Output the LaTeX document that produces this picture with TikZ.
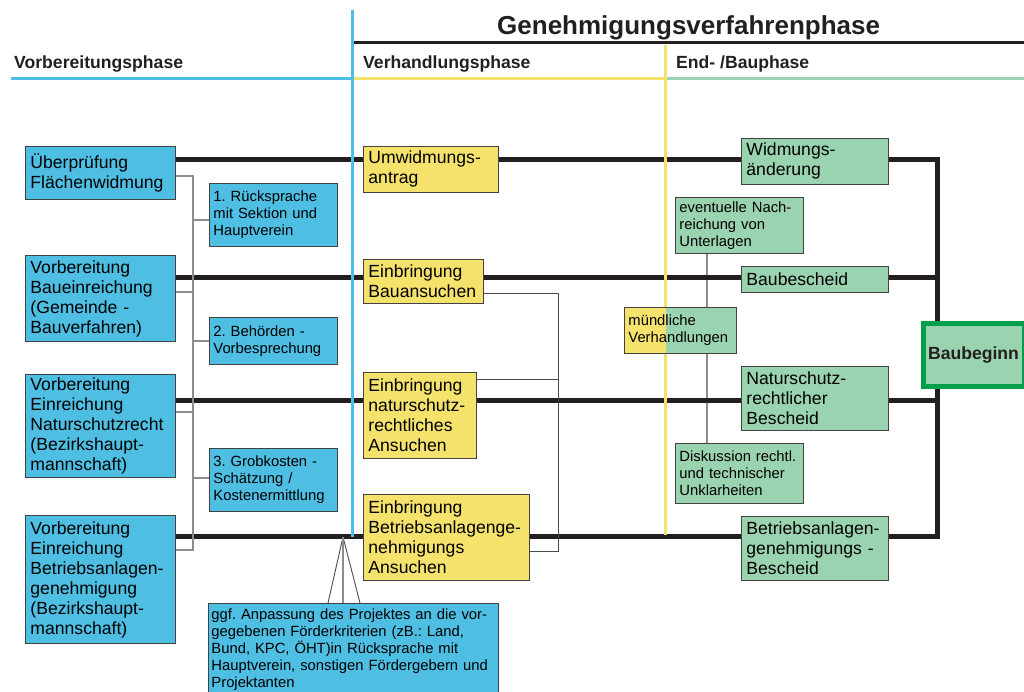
\documentclass[tikz,border=0pt]{standalone}
\usepackage{fontspec}
\setmainfont{Liberation Sans}
\usetikzlibrary{calc}
\frenchspacing
\pgfdeclarelayer{bg}
\pgfdeclarelayer{mid}
\pgfsetlayers{bg,mid,main}
\definecolor{cblue}{HTML}{4EBEE3}
\definecolor{cyel}{HTML}{F4E26D}
\definecolor{cgrn}{HTML}{9AD3AF}
\definecolor{cdg}{HTML}{00A04B}
\definecolor{cblk}{HTML}{231F20}
\tikzset{
  bx/.style={draw=cblk!85, line width=0.9pt, anchor=north west, align=left,
    inner xsep=5pt, inner ysep=0pt, font=\frenchspacing\fontsize{17.6}{20}\selectfont},
  sm/.style={bx, inner xsep=4pt, font=\frenchspacing\fontsize{14.8}{17}\selectfont},
  thk/.style={line width=5pt, draw=cblk},
  gry/.style={line width=1.5pt, draw=black!45},
  thn/.style={line width=0.9pt, draw=black!70},
  phase/.style={line width=3pt},
  head/.style={anchor=base west, inner sep=0pt, font=\fontsize{17.6}{20}\selectfont\bfseries, text=cblk},
}
\begin{document}
\begin{tikzpicture}[x=1pt,y=-1pt]
\useasboundingbox (0,0) rectangle (1024,692);
% headings
\node[head, font=\fontsize{26}{30}\selectfont\bfseries] (title) at (497,35) {Genehmigungsverfahrenphase};
\node[head] (h1) at (14,69) {Vorbereitungsphase};
\node[head] (h2) at (363,69) {Verhandlungsphase};
\node[head] (h3) at (676,69) {End- /Bauphase};

% blue boxes
\node[bx, fill=cblue, text width=140pt, minimum height=53pt] (b1) at (25,146) {Überprüfung\\Flächenwidmung};
\node[bx, fill=cblue, text width=140pt, minimum height=86pt] (b2) at (25,255) {Vorbereitung\\Baueinreichung\\(Gemeinde -\\Bauverfahren)};
\node[bx, fill=cblue, text width=140pt, minimum height=103pt] (b3) at (25,374) {Vorbereitung\\Einreichung\\Naturschutzrecht\\(Bezirkshaupt-\\mannschaft)};
\node[bx, fill=cblue, text width=140pt, minimum height=128pt] (b4) at (25,515) {Vorbereitung\\Einreichung\\Betriebsanlagen-\\genehmigung\\(Bezirkshaupt-\\mannschaft)};
\node[sm, fill=cblue, text width=120pt, minimum height=63pt] (s1) at (209,183) {1. Rücksprache\\mit Sektion und\\Hauptverein};
\node[sm, fill=cblue, text width=120pt, minimum height=47pt] (s2) at (209,317) {2. Behörden -\\Vorbesprechung};
\node[sm, fill=cblue, text width=120pt, minimum height=63pt] (s3) at (209,448) {3. Grobkosten -\\Schätzung /\\Kostenermittlung};
\node[sm, fill=cblue, text width=284pt, inner xsep=3pt, minimum height=92pt] (g) at (208,603) {ggf. Anpassung des Projektes an die vor-\\gegebenen Förderkriterien (zB.: Land,\\Bund, KPC, ÖHT)in Rücksprache mit\\Hauptverein, sonstigen Fördergebern und\\Projektanten};

% yellow boxes
\node[bx, fill=cyel, text width=125pt, minimum height=46pt] (y1) at (363,146) {Umwidmungs-\\antrag};
\node[bx, fill=cyel, text width=110pt, minimum height=44pt] (y2) at (363,259) {Einbringung\\Bauansuchen};
\node[bx, fill=cyel, text width=103pt, minimum height=86pt] (y3) at (363,372) {Einbringung\\naturschutz-\\rechtliches\\Ansuchen};
\node[bx, fill=cyel, text width=156pt, minimum height=86pt] (y4) at (363,494) {Einbringung\\Betriebsanlagenge-\\nehmigungs\\Ansuchen};

% green boxes
\node[bx, fill=cgrn, text width=137pt, minimum height=46pt] (gr1) at (741,138) {Widmungs-\\änderung};
\node[bx, fill=cgrn, text width=137pt, minimum height=26pt] (gr2) at (741,266) {Baubescheid};
\node[bx, fill=cgrn, text width=137pt, minimum height=64pt] (gr3) at (741,366) {Naturschutz-\\rechtlicher\\Bescheid};
\node[bx, fill=cgrn, text width=137pt, minimum height=64pt] (gr4) at (741,516) {Betriebsanlagen-\\genehmigungs -\\Bescheid};
\node[sm, fill=cgrn, text width=120pt, minimum height=56pt] (e1) at (675,197) {eventuelle Nach-\\reichung von\\Unterlagen};
\coordinate (YL) at (666,0);
\node[sm, fill=cgrn, text width=104pt, minimum height=46pt,
  path picture={\fill[cyel] (path picture bounding box.north west) rectangle (YL|-path picture bounding box.south);}] (m1) at (624,307) {mündliche\\Verhandlungen};
\node[sm, fill=cgrn, text width=120pt, minimum height=60pt] (d1) at (675,443) {Diskussion rechtl.\\und technischer\\Unklarheiten};
\node[draw=cdg, line width=5pt, fill=cgrn, anchor=north west, minimum width=101pt, minimum height=63pt,
  inner sep=0pt, font=\fontsize{17.6}{20}\selectfont\bfseries, text=cblk] (bb) at (920.5,320.5) {Baubeginn};

% phase lines
\begin{pgfonlayer}{mid}
\draw[phase, cblk] (353,43) -- (1024,43);
\draw[phase, cblue] (11,79) -- (352,79);
\draw[phase, cyel] (352,79) -- (665,79);
\draw[phase, cgrn] (666.5,79) -- (1024,79);
\draw[phase, cyel] (665,45) -- (665,535);
\draw[phase, cblue] (352,10) -- (352,537);
\end{pgfonlayer}

% connectors
\begin{pgfonlayer}{bg}
\coordinate (V) at (707,0);
\draw[line width=1.2pt, draw=black!45] (V|-e1.south) -- (V|-d1.north);
\coordinate (c1) at (937,160);
\coordinate (c2) at (937,278);
\coordinate (c3) at (937,400);
\coordinate (c4) at (937,536);
\draw[thk] (b1.east|-c1) -- (c1) -- (c4) -- (b4.east|-c4);
\draw[thk] (b2.east|-c2) -- (c2);
\draw[thk] (b3.east|-c3) -- (c3);
% left bracket
\coordinate (L1) at (193,176);
\coordinate (L2) at (193,550);
\coordinate (L3) at (193,292);
\coordinate (L4) at (193,412);
\coordinate (S1) at (193,220);
\coordinate (S2) at (193,341);
\coordinate (S3) at (193,478);
\draw[gry] (b1.east|-L1) -- (L1) -- (L2) -- (b4.east|-L2);
\draw[gry] (b2.east|-L3) -- (L3);
\draw[gry] (b3.east|-L4) -- (L4);
\draw[gry] (S1) -- (s1.west|-S1);
\draw[gry] (S2) -- (s2.west|-S2);
\draw[gry] (S3) -- (s3.west|-S3);
% right bracket
\coordinate (R1) at (558,293);
\coordinate (R2) at (558,551);
\coordinate (R3) at (558,379);
\draw[thn] (y2.east|-R1) -- (R1) -- (R2) -- (y4.east|-R2);
\draw[thn] (y3.east|-R3) -- (R3);
% fan to g
\coordinate (F) at (343,537);
\coordinate (F1) at (328,0);
\coordinate (F2) at (360,0);
\draw[thn] (F) -- (F1|-g.north);
\draw[thn] (F) -- (F2|-g.north);
\draw[gry] (F) -- (F|-g.north);
\end{pgfonlayer}
\end{tikzpicture}
\end{document}
